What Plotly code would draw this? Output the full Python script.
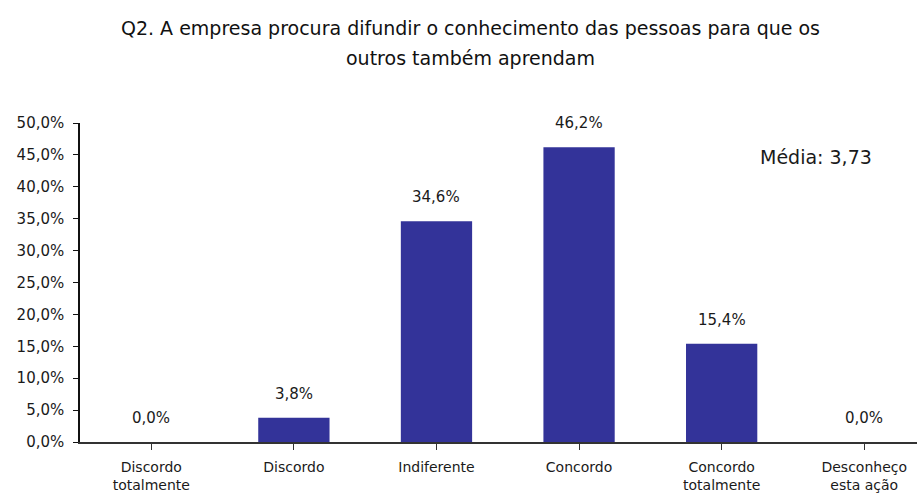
import plotly.graph_objects as go

# Survey answers for question Q2
categories = ["Discordo<br>totalmente", "Discordo", "Indiferente", "Concordo",
              "Concordo<br>totalmente", "Desconheço<br>esta ação"]
shares = [0.0, 0.038, 0.346, 0.462, 0.154, 0.0]
mean_label = "Média: 3,73"
title_lines = ["Q2. A empresa procura difundir o conhecimento das pessoas para que os",
               "outros também aprendam"]

FONT = "DejaVu Sans, Verdana, sans-serif"
TEXT = "#1a1a1a"
BAR_COLOR = "#333399"

# plot area in pixels (top / bottom / left / width)
PLOT_TOP, PLOT_BOTTOM, PLOT_LEFT, PLOT_W = 123, 442, 80, 837


def paper_y(py):
    return (PLOT_BOTTOM - py) / (PLOT_BOTTOM - PLOT_TOP)


def paper_x(px):
    return (px - PLOT_LEFT) / PLOT_W


fig = go.Figure(
    go.Bar(
        x=list(range(len(categories))),
        y=shares,
        marker=dict(color=BAR_COLOR, line=dict(width=0)),
        width=0.5,
        showlegend=False,
        hoverinfo="skip",
    )
)

# value labels above each bar
for i, v in enumerate(shares):
    fig.add_annotation(
        x=i, y=v, xref="x", yref="y",
        text=f"{v * 100:.1f}%".replace(".", ","),
        showarrow=False, yshift=24,
        font=dict(family=FONT, size=15, color=TEXT),
    )

# two-line heading
for line, ypix in zip(title_lines, [28, 58]):
    fig.add_annotation(
        x=paper_x(470), y=paper_y(ypix), xref="paper", yref="paper",
        xanchor="center", yanchor="middle", showarrow=False,
        text=line, font=dict(family=FONT, size=19, color="#111111"),
    )

fig.add_annotation(
    x=paper_x(816), y=paper_y(157), xref="paper", yref="paper",
    text=mean_label, showarrow=False,
    xanchor="center", yanchor="middle",
    font=dict(family=FONT, size=19, color=TEXT),
)

fig.update_layout(
    width=917, height=502,
    margin=dict(l=PLOT_LEFT, r=0, t=PLOT_TOP, b=502 - PLOT_BOTTOM),
    paper_bgcolor="white", plot_bgcolor="white",
    separators=",.",
    xaxis=dict(
        range=[-0.5, 5.37],
        tickmode="array",
        tickvals=list(range(len(categories))),
        ticktext=categories,
        showgrid=False, zeroline=False,
        showline=True, linecolor="#333333", linewidth=1.5,
        ticks="outside", ticklen=6, tickcolor="#333333",
        ticklabelstandoff=5,
        tickfont=dict(family=FONT, size=14, color=TEXT),
        fixedrange=True,
    ),
    yaxis=dict(
        range=[0, 0.5],
        tickvals=[i * 0.05 for i in range(11)],
        tickformat=".1%",
        showgrid=False, zeroline=False,
        showline=True, linecolor="#111111", linewidth=1.5,
        ticks="outside", ticklen=5, tickcolor="#111111",
        ticklabelstandoff=6,
        tickfont=dict(family=FONT, size=15, color=TEXT),
        fixedrange=True,
    ),
)

fig.write_html("out.html")
